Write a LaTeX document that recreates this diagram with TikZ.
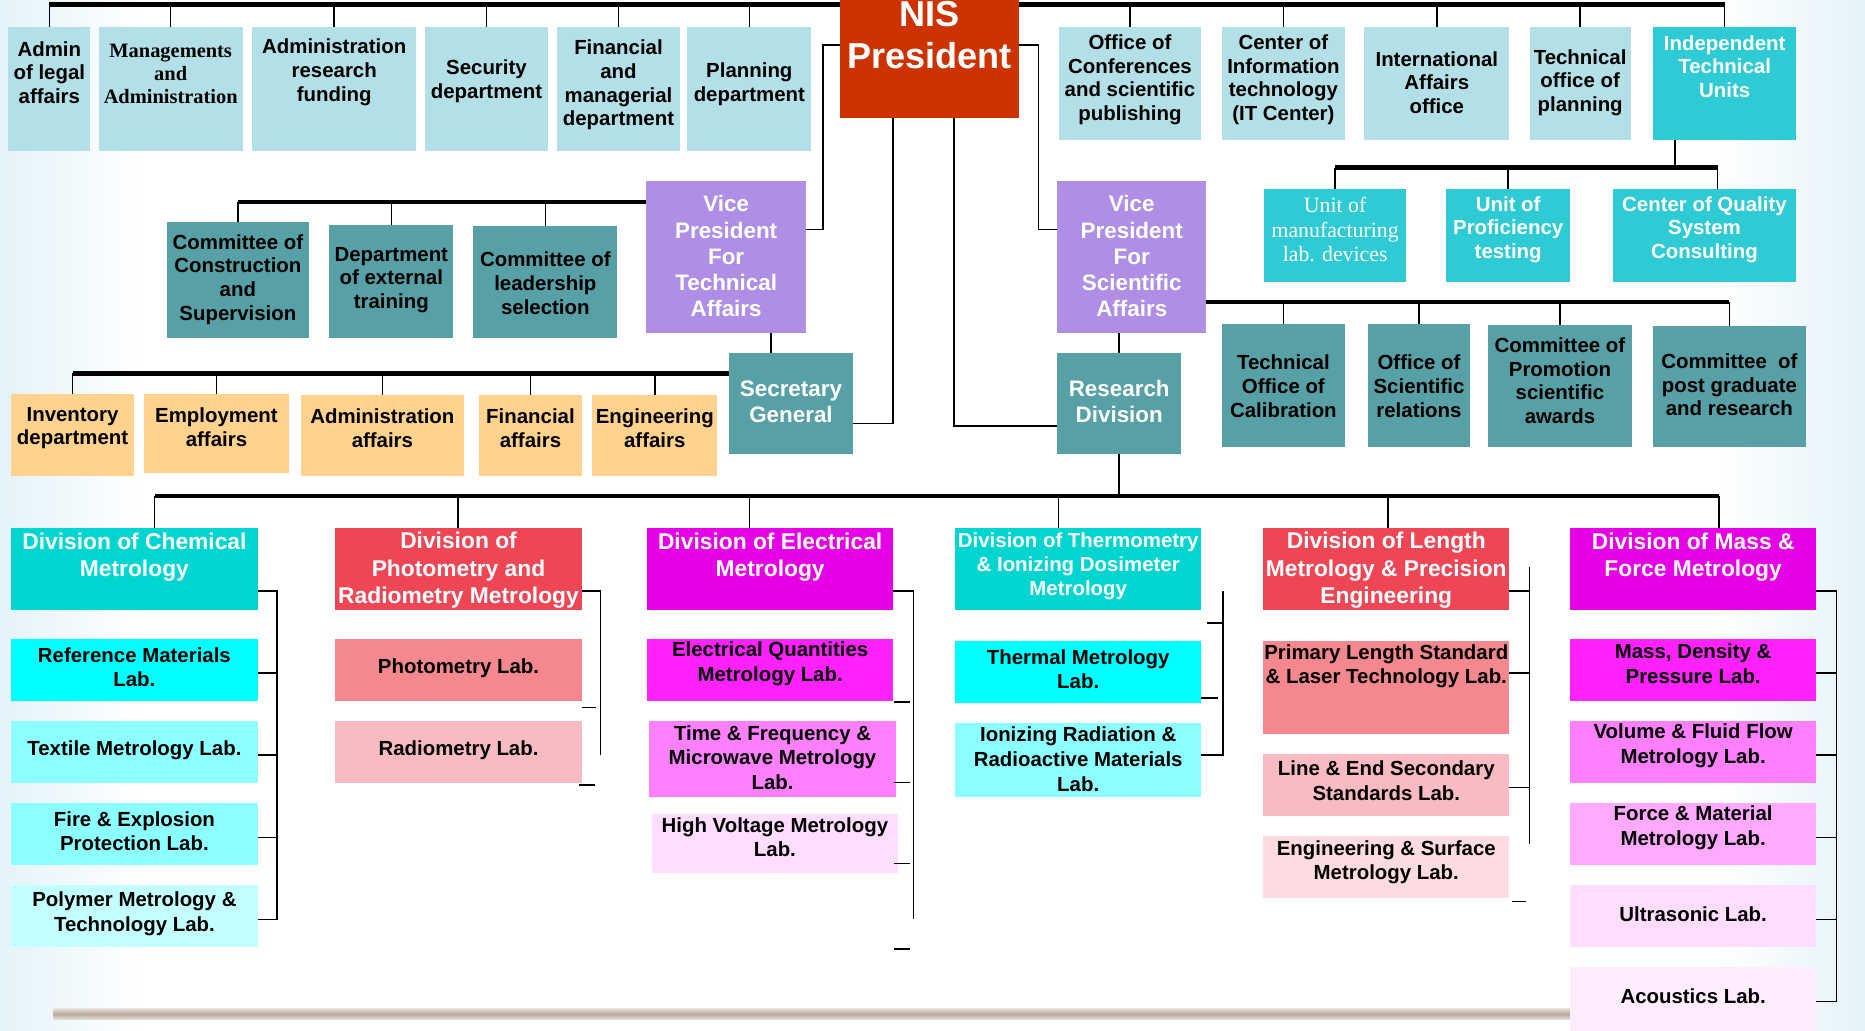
\documentclass[tikz,border=0pt]{standalone}
\usepackage{fontspec}
\setmainfont{Liberation Sans}
\newfontfamily\timesfont{Liberation Serif}
\usetikzlibrary{fit}

\definecolor{paleblue}{RGB}{179,224,230}
\definecolor{presred}{RGB}{204,51,0}
\definecolor{vplilac}{RGB}{175,143,230}
\definecolor{unitteal}{RGB}{46,203,212}
\definecolor{comteal}{RGB}{87,160,166}
\definecolor{orangebox}{RGB}{255,210,142}
\definecolor{chemcyan}{RGB}{0,213,208}
\definecolor{divred}{RGB}{239,70,86}
\definecolor{divmag}{RGB}{230,0,230}
\definecolor{cyanA}{RGB}{0,255,255}
\definecolor{cyanB}{RGB}{140,255,255}
\definecolor{cyanC}{RGB}{196,255,255}
\definecolor{pinkA}{RGB}{244,136,142}
\definecolor{pinkB}{RGB}{248,187,194}
\definecolor{pinkC}{RGB}{252,220,224}
\definecolor{magA}{RGB}{255,34,255}
\definecolor{magB}{RGB}{255,128,255}
\definecolor{magC}{RGB}{255,170,255}
\definecolor{magD}{RGB}{255,221,255}
\definecolor{magE}{RGB}{255,236,255}
\definecolor{bgblue}{RGB}{228,243,249}
\definecolor{barbrown}{RGB}{186,172,156}

\begin{document}
\begin{tikzpicture}[x=0.6pt, y=-0.6pt,
    box/.style={inner sep=0pt, outer sep=0pt},
    txt/.style={align=center, inner sep=0pt, font=\fontsize{10.3}{12}\selectfont\bfseries},
    labtxt/.style={align=center, inner sep=0pt, font=\fontsize{10.3}{12.4}\selectfont\bfseries},
    vptxt/.style={align=center, inner sep=0pt, text=white, font=\fontsize{11.3}{13.2}\selectfont\bfseries},
    divtxt/.style={align=center, inner sep=0pt, text=white, font=\fontsize{11.5}{13.8}\selectfont\bfseries},
    conn/.style={line width=0.8pt},
    bus/.style={line width=2.3pt}]

    \useasboundingbox (0,0) rectangle (1568,866);

    % Sfondo
    \fill[white] (0,0) rectangle (1568,866);
    \shade[left color=bgblue, right color=white] (0,0) rectangle (120,866);
    \shade[left color=white, right color=bgblue] (1440,0) rectangle (1568,866);
    \shade[top color=barbrown!40, bottom color=barbrown!40, middle color=barbrown] (45,848) rectangle (1335,857);

    % Presidente
    \node[box, fill=presred, fit={(706,-10) (857,99)}] (pres) {};
    \node[txt, text=white, font=\fontsize{18.2}{21}\selectfont\bfseries] (pres-t) at (781.5,29.5) {NIS\\President};

    % Uffici a sinistra
    \node[box, fill=paleblue, fit={(7,23) (76,127)}] (legal) {};
    \node[txt] (legal-t) at (41.5,61) {Admin\\of legal\\affairs};
    \node[box, fill=paleblue, fit={(83,23) (204,127)}] (mgmt) {};
    \node[txt, font=\fontsize{10.3}{11.7}\selectfont\timesfont\bfseries] (mgmt-t) at (143.5,62) {Managements\\and\\Administration};
    \node[box, fill=paleblue, fit={(212,23) (350,127)}] (resfund) {};
    \node[txt] (resfund-t) at (281,61) {Administration\\research\\funding};
    \node[box, fill=paleblue, fit={(357,23) (461,127)}] (security) {};
    \node[txt] (security-t) at (409,68) {Security\\department};
    \node[box, fill=paleblue, fit={(468,23) (572,127)}] (finman) {};
    \node[txt] (finman-t) at (520,71.5) {Financial\\and\\managerial\\department};
    \node[box, fill=paleblue, fit={(578,23) (682,127)}] (planning) {};
    \node[txt] (planning-t) at (630,71) {Planning\\department};

    \draw[bus] (legal.north |- 0,4) -- (pres.west |- 0,4);
    \foreach \n in {legal,mgmt,resfund,security,finman,planning}
        \draw[conn] (\n.north) -- (\n.north |- 0,4);

    % Uffici a destra
    \node[box, fill=paleblue, fit={(890,23) (1010,118)}] (conf) {};
    \node[txt] (conf-t) at (950,67) {Office of\\Conferences\\and scientific\\publishing};
    \node[box, fill=paleblue, fit={(1027,23) (1131,118)}] (itc) {};
    \node[txt] (itc-t) at (1079,67) {Center of\\Information\\technology\\(IT Center)};
    \node[box, fill=paleblue, fit={(1147,23) (1269,118)}] (intl) {};
    \node[txt] (intl-t) at (1208,69.5) {International\\Affairs\\office};
    \node[box, fill=paleblue, fit={(1286,23) (1371,118)}] (techplan) {};
    \node[txt] (techplan-t) at (1328.5,69.5) {Technical\\office of\\planning};
    \node[box, fill=unitteal, fit={(1390,23) (1510,118)}] (itu) {};
    \node[txt, text=white] (itu-t) at (1450,56) {Independent\\Technical\\Units};

    \draw[bus] (pres.east |- 0,4) -- (itu.north |- 0,4);
    \foreach \n in {conf,itc,intl,techplan,itu}
        \draw[conn] (\n.north) -- (\n.north |- 0,4);

    % Unita tecniche indipendenti
    \node[box, fill=unitteal, fit={(1063,159) (1182,237)}] (umfg) {};
    \node[txt, text=white, font=\fontsize{11}{12.3}\selectfont\timesfont] (umfg-t) at (1122.5,193) {Unit of\\manufacturing\\lab. devices};
    \node[box, fill=unitteal, fit={(1216,159) (1320,237)}] (uprof) {};
    \node[txt, text=white] (uprof-t) at (1268,193) {Unit of\\Proficiency\\testing};
    \node[box, fill=unitteal, fit={(1356,159) (1510,237)}] (cqsc) {};
    \node[txt, text=white] (cqsc-t) at (1433,193) {Center of Quality\\System\\Consulting};

    \draw[conn] (itu.south -| 1408,0) -- (1408,141);
    \draw[bus] (umfg.north |- 0,141) -- (1444,141);
    \draw[conn] (umfg.north) -- (umfg.north |- 0,141);
    \draw[conn] (uprof.north) -- (uprof.north |- 0,141);
    \draw[conn] (cqsc.north -| 1444,0) -- (1444,141);

    % Vice presidenti
    \node[box, fill=vplilac, fit={(543,152) (678,280)}] (vpt) {};
    \node[vptxt] (vpt-t) at (610.5,215.5) {Vice\\President\\For\\Technical\\Affairs};
    \node[box, fill=vplilac, fit={(889,152) (1014,280)}] (vps) {};
    \node[vptxt] (vps-t) at (951.5,215.5) {Vice\\President\\For\\Scientific\\Affairs};

    \draw[conn] (pres.west |- 0,38) -- (692,38) -- (692,193) -- (vpt.east |- 0,193);
    \draw[conn] (pres.east |- 0,38) -- (873,38) -- (873,193) -- (vps.west |- 0,193);

    % Comitati (affari tecnici)
    \node[box, fill=comteal, fit={(140,187) (260,284)}] (constr) {};
    \node[txt] (constr-t) at (200,235) {Committee of\\Construction\\and\\Supervision};
    \node[box, fill=comteal, fit={(277,189) (381,284)}] (exttrain) {};
    \node[txt] (exttrain-t) at (329,235.5) {Department\\of external\\training};
    \node[box, fill=comteal, fit={(398,190) (519,284)}] (leader) {};
    \node[txt] (leader-t) at (458.5,238) {Committee of\\leadership\\selection};

    \draw[bus] (constr.north |- 0,170) -- (vpt.west |- 0,170);
    \foreach \n in {constr,exttrain,leader}
        \draw[conn] (\n.north) -- (\n.north |- 0,170);

    % Segretario generale
    \node[box, fill=comteal, fit={(613,297) (717,382)}] (sec) {};
    \node[vptxt] (sec-t) at (665,337.5) {Secretary\\General};
    \draw[conn] (vpt.south -| 648,0) -- (sec.north -| 648,0);
    \draw[conn] (pres.south -| 751,0) -- (751,356) -- (sec.east |- 0,356);

    \node[box, fill=orangebox, fit={(9,331) (113,400)}] (inv) {};
    \node[txt] (inv-t) at (61,360) {Inventory\\department};
    \node[box, fill=orangebox, fit={(121,331) (243,398)}] (employ) {};
    \node[txt] (employ-t) at (182,359) {Employment\\affairs};
    \node[box, fill=orangebox, fit={(253,332) (390,400)}] (adminaff) {};
    \node[txt] (adminaff-t) at (321.5,360) {Administration\\affairs};
    \node[box, fill=orangebox, fit={(403,332) (489,400)}] (finaff) {};
    \node[txt] (finaff-t) at (446,360) {Financial\\affairs};
    \node[box, fill=orangebox, fit={(498,332) (603,400)}] (engaff) {};
    \node[txt] (engaff-t) at (550.5,360) {Engineering\\affairs};

    \draw[bus] (inv.north |- 0,314) -- (sec.west |- 0,314);
    \foreach \n in {inv,employ,adminaff,finaff,engaff}
        \draw[conn] (\n.north) -- (\n.north |- 0,314);

    % Comitati (affari scientifici)
    \node[box, fill=comteal, fit={(1027,272) (1131,376)}] (techcal) {};
    \node[txt] (techcal-t) at (1079,324.5) {Technical\\Office of\\Calibration};
    \node[box, fill=comteal, fit={(1150,272) (1236,376)}] (scirel) {};
    \node[txt] (scirel-t) at (1193,324.5) {Office of\\Scientific\\relations};
    \node[box, fill=comteal, fit={(1251,273) (1372,376)}] (promo) {};
    \node[txt] (promo-t) at (1311.5,320) {Committee of\\Promotion\\scientific\\awards};
    \node[box, fill=comteal, fit={(1390,274) (1518,376)}] (postgrad) {};
    \node[txt] (postgrad-t) at (1454,323.5) {Committee~ of\\post graduate\\and research};

    \draw[bus] (vps.east |- 0,254) -- (postgrad.north |- 0,254);
    \foreach \n in {techcal,scirel,promo,postgrad}
        \draw[conn] (\n.north) -- (\n.north |- 0,254);

    % Divisione ricerca
    \node[box, fill=comteal, fit={(889,297) (993,382)}] (res) {};
    \node[vptxt] (res-t) at (941,337.5) {Research\\Division};
    \draw[conn] (vps.south -| res.north) -- (res.north);
    \draw[conn] (pres.south -| 802,0) -- (802,358) -- (res.west |- 0,358);
    \draw[conn] (res.south) -- (res.south |- 0,417);

    % Divisioni
    \node[box, fill=chemcyan, fit={(9,444) (217,513)}] (chem) {};
    \node[divtxt] (chem-t) at (113,468.5) {Division of Chemical\\Metrology};
    \node[box, fill=divred, fit={(282,444) (489,513)}] (photo) {};
    \node[divtxt] (photo-t) at (385.5,479.5) {Division of\\Photometry and\\Radiometry Metrology};
    \node[box, fill=divmag, fit={(544,444) (751,513)}] (elec) {};
    \node[divtxt] (elec-t) at (647.5,468.5) {Division of Electrical\\Metrology};
    \node[box, fill=chemcyan, fit={(803,444) (1010,513)}] (therm) {};
    \node[divtxt, font=\fontsize{10.3}{12}\selectfont\bfseries] (therm-t) at (906.5,476) {Division of Thermometry\\\& Ionizing Dosimeter\\Metrology};
    \node[box, fill=divred, fit={(1062,444) (1269,513)}] (length) {};
    \node[divtxt] (length-t) at (1165.5,479.5) {Division of Length\\Metrology \& Precision\\Engineering};
    \node[box, fill=divmag, fit={(1320,444) (1527,513)}] (mass) {};
    \node[divtxt] (mass-t) at (1423.5,468.5) {Division of Mass \&\\Force Metrology};

    \coordinate (busW) at (130,417);
    \coordinate (busE) at (1445,417);
    \draw[bus] (busW) -- (busE);
    \foreach \n/\x in {chem/130,photo/385,elec/630,therm/890,length/1167,mass/1445}
        \draw[conn] (\n.north -| \x,0) -- (\x,417);

    % Laboratori chimica
    \node[box, fill=cyanA, fit={(9,537) (217,589)}] (refmat) {};
    \node[labtxt] (refmat-t) at (113,561) {Reference Materials\\Lab.};
    \node[box, fill=cyanB, fit={(9,606) (217,658)}] (textile) {};
    \node[labtxt] (textile-t) at (113,631) {Textile Metrology Lab.};
    \node[box, fill=cyanB, fit={(9,675) (217,727)}] (fire) {};
    \node[labtxt] (fire-t) at (113,699) {Fire \& Explosion\\Protection Lab.};
    \node[box, fill=cyanC, fit={(9,744) (217,796)}] (polymer) {};
    \node[labtxt] (polymer-t) at (113,768) {Polymer Metrology \&\\Technology Lab.};

    \draw[conn] (chem.east |- 0,497) -- (233,497) -- (233,773) -- (polymer.east |- 0,773);
    \foreach \n/\y in {refmat/566,textile/635,fire/704}
        \draw[conn] (\n.east |- 0,\y) -- (233,\y);

    % Laboratori fotometria
    \node[box, fill=pinkA, fit={(282,537) (489,589)}] (photlab) {};
    \node[labtxt] (photlab-t) at (385.5,562) {Photometry Lab.};
    \node[box, fill=pinkB, fit={(282,606) (489,658)}] (radlab) {};
    \node[labtxt] (radlab-t) at (385.5,631) {Radiometry Lab.};

    \draw[conn] (photo.east |- 0,497) -- (505,497) -- (505,635);
    \draw[conn] (photlab.east |- 0,595) -- ++(12,0);
    \draw[conn] (radlab.east |- 0,660) ++(-2,0) -- ++(13,0);

    % Laboratori elettrici
    \node[box, fill=magA, fit={(544,537) (751,589)}] (eqlab) {};
    \node[labtxt] (eqlab-t) at (647.5,558) {Electrical Quantities\\Metrology Lab.};
    \node[box, fill=magB, fit={(546,606) (753,670)}] (tflab) {};
    \node[labtxt, font=\fontsize{10.3}{12.2}\selectfont\bfseries] (tflab-t) at (649.5,637) {Time \& Frequency \&\\Microwave Metrology\\Lab.};
    \node[box, fill=magD, fit={(548,684) (755,734)}] (hvlab) {};
    \node[labtxt] (hvlab-t) at (651.5,704) {High Voltage Metrology\\Lab.};

    \draw[conn] (elec.east |- 0,497) -- (768,497) -- (768,773);
    \foreach \y in {590,658,726,798}
        \draw[conn] (elec.east |- 0,\y) ++(1,0) -- ++(13,0);

    % Laboratori termometria
    \node[box, fill=cyanA, fit={(803,539) (1010,591)}] (thermlab) {};
    \node[labtxt] (thermlab-t) at (906.5,562.5) {Thermal Metrology\\Lab.};
    \node[box, fill=cyanB, fit={(803,608) (1010,670)}] (ionlab) {};
    \node[labtxt, font=\fontsize{10.3}{12.6}\selectfont\bfseries] (ionlab-t) at (906.5,638.5) {Ionizing Radiation \&\\Radioactive Materials\\Lab.};

    \coordinate (thermtop) at (1028,497);
    \draw[conn] (thermtop) -- (1028,635) -- (ionlab.east |- 0,635);
    \draw[conn] (therm.east |- 0,524) ++(5,0) -- (1028,524);
    \draw[conn] (thermlab.east |- 0,587) -- ++(14,0);

    % Laboratori lunghezza
    \node[box, fill=pinkA, fit={(1062,539) (1269,617)}] (pllab) {};
    \node[labtxt] (pllab-t) at (1165.5,560) {Primary Length Standard\\\& Laser Technology Lab.};
    \node[box, fill=pinkB, fit={(1062,634) (1269,686)}] (lelab) {};
    \node[labtxt] (lelab-t) at (1165.5,656.5) {Line \& End Secondary\\Standards Lab.};
    \node[box, fill=pinkC, fit={(1062,703) (1269,755)}] (eslab) {};
    \node[labtxt] (eslab-t) at (1165.5,725) {Engineering \& Surface\\Metrology Lab.};

    \coordinate (lentop) at (1286,477);
    \draw[conn] (lentop) -- (1286,710);
    \foreach \n/\y in {length/497,pllab/566,lelab/662}
        \draw[conn] (\n.east |- 0,\y) -- (1286,\y);
    \draw[conn] (eslab.east |- 0,758) ++(2,0) -- ++(12,0);

    % Laboratori massa
    \node[box, fill=magA, fit={(1320,537) (1527,589)}] (mdp) {};
    \node[labtxt] (mdp-t) at (1423.5,558) {Mass, Density \&\\Pressure Lab.};
    \node[box, fill=magB, fit={(1320,606) (1527,658)}] (vff) {};
    \node[labtxt] (vff-t) at (1423.5,627) {Volume \& Fluid Flow\\Metrology Lab.};
    \node[box, fill=magC, fit={(1320,675) (1527,727)}] (fml) {};
    \node[labtxt] (fml-t) at (1423.5,696) {Force \& Material\\Metrology Lab.};
    \node[box, fill=magD, fit={(1320,744) (1527,796)}] (ultra) {};
    \node[labtxt] (ultra-t) at (1423.5,768.5) {Ultrasonic Lab.};
    \node[box, fill=magE, fit={(1320,813) (1527,875)}] (acou) {};
    \node[labtxt] (acou-t) at (1423.5,837.5) {Acoustics Lab.};

    \draw[conn] (mass.east |- 0,497) -- (1544,497) -- (1544,842) -- (acou.east |- 0,842);
    \foreach \n/\y in {mdp/566,vff/635,fml/704,ultra/773}
        \draw[conn] (\n.east |- 0,\y) -- (1544,\y);

\end{tikzpicture}
\end{document}
